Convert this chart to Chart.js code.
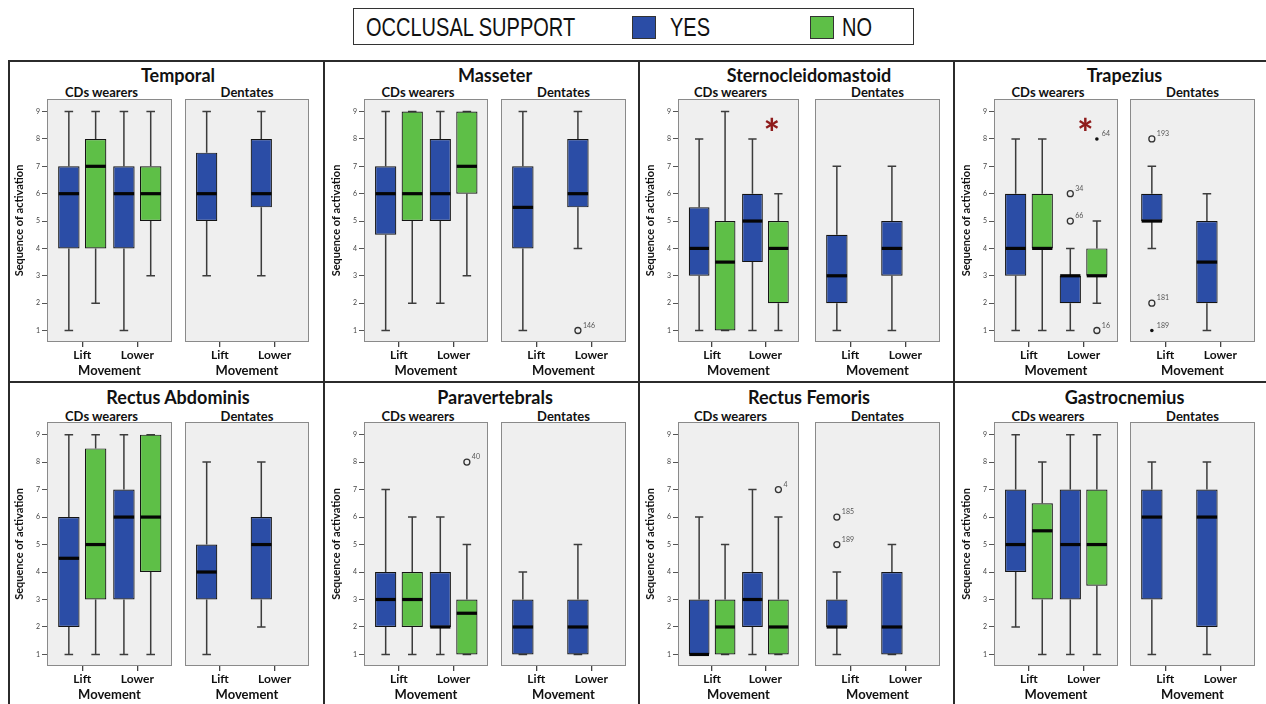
<!DOCTYPE html>
<html><head><meta charset="utf-8">
<script src="https://cdn.jsdelivr.net/npm/chart.js@4.4.1/dist/chart.umd.min.js"></script>
<style>
html,body{margin:0;padding:0;background:#fff;}
#root{position:relative;width:1266px;height:704px;overflow:hidden;font-family:Lato,'Open Sans',sans-serif;}
canvas{position:absolute;}
.ptitle,.stitle,.lg{position:absolute;white-space:nowrap;color:#111;line-height:1;}
.ptitle{font-weight:bold;font-size:18px;transform:translate(-50%,-50%);}
.stitle{font-weight:bold;font-size:13px;transform:translate(-50%,-50%);}
.line{position:absolute;background:#2b2b2b;}
.lg{font-family:'Liberation Sans',Arial,sans-serif;font-size:26px;transform-origin:0 50%;transform:translate(0,-50%) scaleX(0.77);}
.sq{position:absolute;width:22px;height:21px;border:1px solid #333;}
</style></head><body><div id="root"></div>
<script>
// ---------------- data ----------------
const muscles = ['Temporal','Masseter','Sternocleidomastoid','Trapezius','Rectus Abdominis','Paravertebrals','Rectus Femoris','Gastrocnemius'];
const movements = ['Lift','Lower'];
const groups = ['CDs wearers','Dentates'];
const seriesNames = ['YES','NO'];
const yTicks = [1,2,3,4,5,6,7,8,9];
// five-number summaries [min, q1, median, q3, max] for [Lift, Lower]
const cdsYes = [
  [[1,4,6,7,9],[1,4,6,7,9]],
  [[1,4.5,6,7,9],[2,5,6,8,9]],
  [[1,3,4,5.5,8],[1,3.5,5,6,8]],
  [[1,3,4,6,8],[1,2,3,3,4]],
  [[1,2,4.5,6,9],[1,3,6,7,9]],
  [[1,2,3,4,7],[1,2,2,4,6]],
  [[1,1,1,3,6],[1,2,3,4,7]],
  [[2,4,5,7,9],[1,3,5,7,9]]
];
const cdsNo = [
  [[2,4,7,8,9],[3,5,6,7,9]],
  [[2,5,6,9,9],[3,6,7,9,9]],
  [[1,1,3.5,5,9],[1,2,4,5,6]],
  [[1,4,4,6,8],[2,3,3,4,5]],
  [[1,3,5,8.5,9],[1,4,6,9,9]],
  [[1,2,3,4,6],[1,1,2.5,3,5]],
  [[1,1,2,3,5],[1,1,2,3,6]],
  [[1,3,5.5,6.5,8],[1,3.5,5,7,9]]
];
const dentYes = [
  [[3,5,6,7.5,9],[3,5.5,6,8,9]],
  [[1,4,5.5,7,9],[4,5.5,6,8,9]],
  [[1,2,3,4.5,7],[1,3,4,5,7]],
  [[4,5,5,6,7],[1,2,3.5,5,6]],
  [[1,3,4,5,8],[2,3,5,6,8]],
  [[1,1,2,3,4],[1,1,2,3,5]],
  [[1,2,2,3,4],[1,1,2,4,5]],
  [[1,3,6,7,8],[1,2,6,7,8]]
];
// outliers: [muscle, group (0 CDs, 1 Dentates), series (0 YES, 1 NO), movement, value, case label, extreme]
const outliers = [
  [1,1,0,1,1,'146',false],
  [3,0,0,1,6,'34',false],
  [3,0,0,1,5,'66',false],
  [3,0,1,1,8,'64',true],
  [3,0,1,1,1,'16',false],
  [3,1,0,0,8,'193',false],
  [3,1,0,0,2,'181',false],
  [3,1,0,0,1,'189',true],
  [5,0,1,1,8,'40',false],
  [6,0,1,1,7,'4',false],
  [6,1,0,0,6,'185',false],
  [6,1,0,0,5,'189',false]
];
// significance markers: [muscle, movement axis value, sequence value]
const significance = [[2,2.12,8.56],[3,2.03,8.56]];

// ---------------- style / layout ----------------
const BLUE = '#2b4da6', GREEN = '#5ebf47', BG = '#efefef';
const cols = { cdsLeft:[47,364,678,994], cdsW:[125,124,121,124], dentLeft:[185,501,815,1130], dentW:[124,125,125,125], border:[8,323,638,953] };
const rows = { boxTop:[99,422], boxH:[243,244], titleY:[75,397], subY:[92,416] };
const Y_W = 34, X_H = 38, PAD = 2;
Chart.defaults.font.family = "Lato, 'Open Sans', sans-serif";

const root = document.getElementById('root');
function el(cls, style, text){ const d=document.createElement('div'); d.className=cls; Object.assign(d.style, style); if(text!==undefined) d.textContent=text; root.appendChild(d); return d; }

// legend
el('line',{left:'353px',top:'8px',width:'561px',height:'37px',background:'#fff',border:'1.5px solid #333',boxSizing:'border-box'});
el('lg',{left:'366px',top:'27px'},'OCCLUSAL SUPPORT');
el('sq',{left:'632px',top:'16px',background:BLUE});
el('lg',{left:'670px',top:'27px'},seriesNames[0]);
el('sq',{left:'810px',top:'16px',background:GREEN});
el('lg',{left:'842px',top:'27px'},seriesNames[1]);

// frame lines
el('line',{left:'8px',top:'60px',width:'1258px',height:'2px'});
el('line',{left:'8px',top:'381px',width:'1258px',height:'2px'});
cols.border.forEach(x => el('line',{left:x+'px',top:'60px',width:'2px',height:'644px'}));

const boxPlugin = {
  id:'boxplot',
  beforeDraw(chart){
    const {ctx, chartArea:a} = chart;
    ctx.save();
    ctx.fillStyle = BG;
    ctx.fillRect(a.left, a.top, a.right-a.left, a.bottom-a.top);
    ctx.strokeStyle = '#8a8a8a'; ctx.lineWidth = 1;
    ctx.strokeRect(a.left+0.5, a.top+0.5, a.right-a.left-1, a.bottom-a.top-1);
    ctx.restore();
  },
  beforeDatasetsDraw(chart, args, opts){
    const {ctx} = chart; const ys = chart.scales.y;
    const py = v => ys.getPixelForValue(v);
    const src = opts.group === 0 ? [cdsYes, cdsNo] : [dentYes, null];
    ctx.save();
    ctx.strokeStyle = '#3c3c3c'; ctx.lineWidth = 1.5;
    src.forEach((arr, d) => {
      if (!arr) return;
      const meta = chart.getDatasetMeta(d);
      arr[opts.m].forEach((s, i) => {
        const bar = meta.data[i]; if (!bar || !s) return;
        const x = bar.x, cap = bar.width * 0.4;
        ctx.beginPath();
        ctx.moveTo(x, py(s[3])); ctx.lineTo(x, py(s[4]));
        ctx.moveTo(x, py(s[1])); ctx.lineTo(x, py(s[0]));
        ctx.moveTo(x-cap/2, py(s[4])); ctx.lineTo(x+cap/2, py(s[4]));
        ctx.moveTo(x-cap/2, py(s[0])); ctx.lineTo(x+cap/2, py(s[0]));
        ctx.stroke();
      });
    });
    ctx.restore();
  },
  afterDatasetsDraw(chart, args, opts){
    const {ctx} = chart; const ys = chart.scales.y, xs = chart.scales.x;
    const py = v => ys.getPixelForValue(v);
    const src = opts.group === 0 ? [cdsYes, cdsNo] : [dentYes, null];
    ctx.save();
    ctx.strokeStyle = '#050505'; ctx.lineWidth = 3.2;
    src.forEach((arr, d) => {
      if (!arr) return;
      const meta = chart.getDatasetMeta(d);
      arr[opts.m].forEach((s, i) => {
        const bar = meta.data[i]; if (!bar || !s) return;
        ctx.beginPath();
        ctx.moveTo(bar.x - bar.width/2 + 0.5, py(s[2]));
        ctx.lineTo(bar.x + bar.width/2 - 0.5, py(s[2]));
        ctx.stroke();
      });
    });
    outliers.filter(o => o[0]===opts.m && o[1]===opts.group).forEach(o => {
      const bar = chart.getDatasetMeta(o[2]).data[o[3]]; if (!bar) return;
      const x = bar.x, y = py(o[4]);
      ctx.beginPath();
      if (o[6]) {
        ctx.fillStyle = '#111'; ctx.arc(x, y, 1.8, 0, Math.PI*2); ctx.fill();
      } else {
        ctx.fillStyle = BG; ctx.strokeStyle = '#333'; ctx.lineWidth = 1.3;
        ctx.arc(x, y, 3, 0, Math.PI*2); ctx.fill(); ctx.stroke();
      }
      ctx.fillStyle = '#555'; ctx.font = "7px Lato, 'Open Sans', sans-serif";
      ctx.textAlign = 'left'; ctx.textBaseline = 'alphabetic';
      ctx.fillText(o[5], x + 5, y - 3);
    });
    if (opts.group === 0) {
      significance.filter(s => s[0]===opts.m).forEach(s => {
        const x = xs.getPixelForValue(s[1]), y = py(s[2]);
        ctx.fillStyle = '#8e1b1b'; ctx.font = "900 38px Lato, 'Open Sans', sans-serif";
        ctx.textAlign = 'center'; ctx.textBaseline = 'alphabetic';
        const mt = ctx.measureText('*');
        ctx.fillText('*', x, y + (mt.actualBoundingBoxAscent - mt.actualBoundingBoxDescent)/2);
      });
    }
    ctx.restore();
  }
};

function makeChart(m, group, boxLeft, boxTop, boxW, boxH){
  const isCds = group === 0;
  const yW = isCds ? Y_W : 0, padL = isCds ? 0 : PAD;
  const W = padL + yW + boxW + PAD, H = PAD + boxH + X_H;
  const cv = document.createElement('canvas');
  cv.width = W; cv.height = H;
  Object.assign(cv.style, {left:(boxLeft-yW-padL)+'px', top:(boxTop-PAD)+'px', width:W+'px', height:H+'px'});
  root.appendChild(cv);
  const yesSrc = isCds ? cdsYes[m] : dentYes[m];
  const noSrc = isCds ? cdsNo[m] : [];
  const toBars = src => src.map((s, i) => ({x: i+1, y: [s[1], s[3]]}));
  const barStyle = {borderColor:'#141414', borderWidth:1.2, borderSkipped:false};
  new Chart(cv, {
    type:'bar',
    data:{ datasets:[
      Object.assign({label:seriesNames[0], data:toBars(yesSrc), backgroundColor:BLUE}, barStyle),
      Object.assign({label:seriesNames[1], data:toBars(noSrc), backgroundColor:GREEN}, barStyle)
    ]},
    options:{
      responsive:false, animation:false, devicePixelRatio:1,
      layout:{padding:{left:padL, top:PAD, right:PAD, bottom:0}},
      categoryPercentage:0.973, barPercentage:0.8,
      plugins:{legend:{display:false}, tooltip:{enabled:false}, title:{display:false}, boxplot:{m:m, group:group}},
      scales:{
        x:{
          type:'linear', min:0.36, max:2.63, offset:false,
          afterBuildTicks: s => { s.ticks = movements.map((mv,i)=>({value:i+1})); },
          ticks:{ callback:(v,i)=>movements[i], font:{size:12, weight:'bold'}, color:'#111', padding:1, autoSkip:false, maxRotation:0 },
          grid:{ drawOnChartArea:false, drawTicks:true, tickLength:5, color:'#444', lineWidth:1.3, offset:false },
          border:{display:false},
          title:{display:true, text:'Movement', font:{size:13, weight:'bold'}, color:'#111', padding:{top:0,bottom:1}},
          afterFit: s => { s.height = X_H; s.paddingLeft = 0; s.paddingRight = 0; }
        },
        y:{
          type:'linear', min:0.58, max:9.46, display:isCds,
          afterBuildTicks: s => { s.ticks = yTicks.map(v=>({value:v})); },
          ticks:{ font:{size:7}, color:'#444', padding:2, autoSkip:false },
          grid:{ drawOnChartArea:false, drawTicks:true, tickLength:5, color:'#555' },
          border:{display:false},
          title:{display:true, text:'Sequence of activation', font:{size:11, weight:'bold'}, color:'#111', padding:{top:0,bottom:0}},
          afterFit: s => { s.width = isCds ? Y_W : 0; s.paddingTop = 0; s.paddingBottom = 0; }
        }
      }
    },
    plugins:[boxPlugin]
  });
}

muscles.forEach((name, m) => {
  const r = Math.floor(m/4), c = m % 4;
  const cl = cols.cdsLeft[c], cw = cols.cdsW[c], dl = cols.dentLeft[c], dw = cols.dentW[c];
  el('ptitle',{left:((cl + dl + dw)/2)+'px', top:rows.titleY[r]+'px'}, name);
  el('stitle',{left:(cl + cw/2 - 8)+'px', top:rows.subY[r]+'px'}, groups[0]);
  el('stitle',{left:(dl + dw/2)+'px', top:rows.subY[r]+'px'}, groups[1]);
  makeChart(m, 0, cl, rows.boxTop[r], cw, rows.boxH[r]);
  makeChart(m, 1, dl, rows.boxTop[r], dw, rows.boxH[r]);
});
</script></body></html>
